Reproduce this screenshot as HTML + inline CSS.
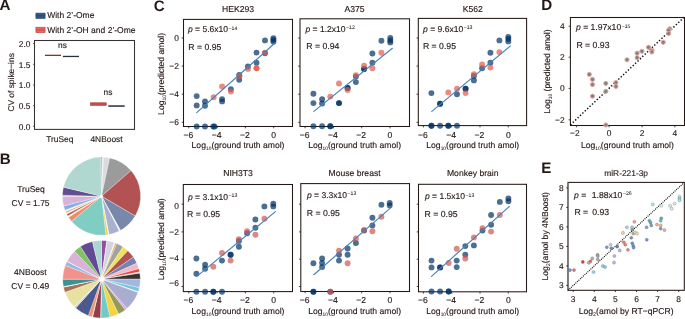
<!DOCTYPE html>
<html><head><meta charset="utf-8"><style>
html,body{margin:0;padding:0;background:#fff;}
svg{display:block;will-change:transform;}
text{font-family:"Liberation Sans",sans-serif;text-rendering:geometricPrecision;stroke:#231815;stroke-width:0.13px;}
tspan[font-size]{stroke-width:0.04px;}
text[font-weight="bold"]{stroke:none;}
</style></head><body>
<svg width="685" height="319" viewBox="0 0 685 319">
<rect width="685" height="319" fill="#fff"/>
<text x="-0.4" y="10.3" font-size="15.2" font-weight="bold" fill="#231815">A</text>
<text x="-0.3" y="163.8" font-size="15.2" font-weight="bold" fill="#231815">B</text>
<text x="153.7" y="11.0" font-size="15.2" font-weight="bold" fill="#231815">C</text>
<text x="541.2" y="10.4" font-size="15.2" font-weight="bold" fill="#231815">D</text>
<text x="541.2" y="172.7" font-size="15.2" font-weight="bold" fill="#231815">E</text>
<rect x="35.9" y="13.1" width="9.2" height="5.4" fill="#33598a" stroke="#22385a" stroke-width="0.55"/>
<line x1="35.9" y1="15.8" x2="45.1" y2="15.8" stroke="#22385a" stroke-width="0.6"/>
<rect x="35.9" y="27.2" width="9.2" height="5.5" fill="#ec6560" stroke="#b23a38" stroke-width="0.55"/>
<line x1="35.9" y1="29.95" x2="45.1" y2="29.95" stroke="#b23a38" stroke-width="0.6"/>
<text x="47.2" y="18.2" font-size="8.5" fill="#231815">With 2&#8217;-Ome</text>
<text x="47.2" y="32.6" font-size="8.5" fill="#231815">With 2&#8217;-OH and 2&#8217;-Ome</text>
<rect x="34.5" y="40.5" width="100.0" height="88.9" fill="none" stroke="#333" stroke-width="1.05"/>
<line x1="33.0" y1="43.6" x2="34.7" y2="43.6" stroke="#3b3533" stroke-width="0.8"/>
<text x="30.4" y="46.800000000000004" font-size="8.4" text-anchor="end" fill="#231815">2.0</text>
<line x1="33.0" y1="64.3" x2="34.7" y2="64.3" stroke="#3b3533" stroke-width="0.8"/>
<text x="30.4" y="67.5" font-size="8.4" text-anchor="end" fill="#231815">1.5</text>
<line x1="33.0" y1="85.0" x2="34.7" y2="85.0" stroke="#3b3533" stroke-width="0.8"/>
<text x="30.4" y="88.2" font-size="8.4" text-anchor="end" fill="#231815">1.0</text>
<line x1="33.0" y1="105.6" x2="34.7" y2="105.6" stroke="#3b3533" stroke-width="0.8"/>
<text x="30.4" y="108.8" font-size="8.4" text-anchor="end" fill="#231815">0.5</text>
<line x1="33.0" y1="126.3" x2="34.7" y2="126.3" stroke="#3b3533" stroke-width="0.8"/>
<text x="30.4" y="129.5" font-size="8.4" text-anchor="end" fill="#231815">0.0</text>
<text transform="translate(14.2,82.4) rotate(-90)" font-size="8.4" text-anchor="middle" fill="#231815">CV of spike&#8722;ins</text>
<rect x="44.9" y="54.7" width="16.1" height="1.3" fill="#8a2e2e"/>
<rect x="62.9" y="55.8" width="16.1" height="1.3" fill="#28323f"/>
<rect x="90.5" y="102.8" width="15.8" height="2.6" fill="#d24846" stroke="#8c2c2c" stroke-width="0.5"/>
<rect x="108.3" y="105.3" width="16.4" height="1.5" fill="#27313e"/>
<text x="62.4" y="48.2" font-size="8.4" text-anchor="middle" fill="#231815">ns</text>
<text x="108.0" y="94.8" font-size="8.4" text-anchor="middle" fill="#231815">ns</text>
<text x="59.8" y="142.3" font-size="8.4" text-anchor="middle" fill="#231815">TruSeq</text>
<text x="106.5" y="142.3" font-size="8.4" text-anchor="middle" fill="#231815">4NBoost</text>
<text x="31.0" y="192.3" font-size="8.5" text-anchor="middle" fill="#231815">TruSeq</text>
<text x="30.6" y="206.0" font-size="8.5" text-anchor="middle" fill="#231815">CV = 1.75</text>
<text x="30.4" y="274.8" font-size="8.5" text-anchor="middle" fill="#231815">4NBoost</text>
<text x="30.3" y="289.1" font-size="8.5" text-anchor="middle" fill="#231815">CV = 0.49</text>
<path d="M101.5,196.2L101.50,157.10A39.1,39.1 0 0 1 102.59,157.12Z" fill="#8a4fa0" stroke="#fff" stroke-width="0.3" stroke-linejoin="round"/>
<path d="M101.5,196.2L102.59,157.12A39.1,39.1 0 0 1 103.55,157.15Z" fill="#f2f2f4" stroke="#fff" stroke-width="0.3" stroke-linejoin="round"/>
<path d="M101.5,196.2L103.55,157.15A39.1,39.1 0 0 1 109.63,157.95Z" fill="#d9dbe0" stroke="#fff" stroke-width="0.3" stroke-linejoin="round"/>
<path d="M101.5,196.2L109.63,157.95A39.1,39.1 0 0 1 131.01,170.55Z" fill="#9b9b9b" stroke="#fff" stroke-width="0.3" stroke-linejoin="round"/>
<path d="M101.5,196.2L131.01,170.55A39.1,39.1 0 0 1 135.19,216.04Z" fill="#b25252" stroke="#fff" stroke-width="0.3" stroke-linejoin="round"/>
<path d="M101.5,196.2L135.19,216.04A39.1,39.1 0 0 1 120.46,230.40Z" fill="#7888aa" stroke="#fff" stroke-width="0.3" stroke-linejoin="round"/>
<path d="M101.5,196.2L120.46,230.40A39.1,39.1 0 0 1 119.25,231.04Z" fill="#f6f6f8" stroke="#fff" stroke-width="0.3" stroke-linejoin="round"/>
<path d="M101.5,196.2L119.25,231.04A39.1,39.1 0 0 1 108.96,234.58Z" fill="#a9b0d0" stroke="#fff" stroke-width="0.3" stroke-linejoin="round"/>
<path d="M101.5,196.2L108.96,234.58A39.1,39.1 0 0 1 108.29,234.71Z" fill="#f8f8f8" stroke="#fff" stroke-width="0.3" stroke-linejoin="round"/>
<path d="M101.5,196.2L108.29,234.71A39.1,39.1 0 0 1 105.93,235.05Z" fill="#f2d24a" stroke="#fff" stroke-width="0.3" stroke-linejoin="round"/>
<path d="M101.5,196.2L105.93,235.05A39.1,39.1 0 0 1 71.55,221.33Z" fill="#80cdc4" stroke="#fff" stroke-width="0.3" stroke-linejoin="round"/>
<path d="M101.5,196.2L71.55,221.33A39.1,39.1 0 0 1 68.52,217.21Z" fill="#f08c64" stroke="#fff" stroke-width="0.3" stroke-linejoin="round"/>
<path d="M101.5,196.2L68.52,217.21A39.1,39.1 0 0 1 67.81,216.04Z" fill="#eef0f4" stroke="#fff" stroke-width="0.3" stroke-linejoin="round"/>
<path d="M101.5,196.2L67.81,216.04A39.1,39.1 0 0 1 66.66,213.95Z" fill="#a8684a" stroke="#fff" stroke-width="0.3" stroke-linejoin="round"/>
<path d="M101.5,196.2L66.66,213.95A39.1,39.1 0 0 1 66.21,213.03Z" fill="#f8f4f2" stroke="#fff" stroke-width="0.3" stroke-linejoin="round"/>
<path d="M101.5,196.2L66.21,213.03A39.1,39.1 0 0 1 65.51,211.48Z" fill="#f29a80" stroke="#fff" stroke-width="0.3" stroke-linejoin="round"/>
<path d="M101.5,196.2L65.51,211.48A39.1,39.1 0 0 1 65.00,210.21Z" fill="#f6f4f6" stroke="#fff" stroke-width="0.3" stroke-linejoin="round"/>
<path d="M101.5,196.2L65.00,210.21A39.1,39.1 0 0 1 63.65,205.99Z" fill="#86aee0" stroke="#fff" stroke-width="0.3" stroke-linejoin="round"/>
<path d="M101.5,196.2L63.65,205.99A39.1,39.1 0 0 1 62.40,196.20Z" fill="#d8b2d9" stroke="#fff" stroke-width="0.3" stroke-linejoin="round"/>
<path d="M101.5,196.2L62.40,196.20A39.1,39.1 0 0 1 62.41,195.18Z" fill="#d0e4a8" stroke="#fff" stroke-width="0.3" stroke-linejoin="round"/>
<path d="M101.5,196.2L62.41,195.18A39.1,39.1 0 0 1 63.46,187.14Z" fill="#654c92" stroke="#fff" stroke-width="0.3" stroke-linejoin="round"/>
<path d="M101.5,196.2L63.46,187.14A39.1,39.1 0 0 1 100.95,157.10Z" fill="#b0d8d0" stroke="#fff" stroke-width="0.3" stroke-linejoin="round"/>
<path d="M101.5,196.2L100.95,157.10A39.1,39.1 0 0 1 101.50,157.10Z" fill="#8a4fa0" stroke="#fff" stroke-width="0.3" stroke-linejoin="round"/>
<path d="M101.5,279.2L101.50,240.40A38.8,38.8 0 0 1 106.90,240.78Z" fill="#9150a2" stroke="#fff" stroke-width="0.3" stroke-linejoin="round"/>
<path d="M101.5,279.2L106.90,240.78A38.8,38.8 0 0 1 107.24,240.83Z" fill="#f4f4f6" stroke="#fff" stroke-width="0.3" stroke-linejoin="round"/>
<path d="M101.5,279.2L107.24,240.83A38.8,38.8 0 0 1 114.39,242.60Z" fill="#d2d5dd" stroke="#fff" stroke-width="0.3" stroke-linejoin="round"/>
<path d="M101.5,279.2L114.39,242.60A38.8,38.8 0 0 1 115.40,242.98Z" fill="#f8f0e0" stroke="#fff" stroke-width="0.3" stroke-linejoin="round"/>
<path d="M101.5,279.2L115.40,242.98A38.8,38.8 0 0 1 116.78,243.54Z" fill="#f0a030" stroke="#fff" stroke-width="0.3" stroke-linejoin="round"/>
<path d="M101.5,279.2L116.78,243.54A38.8,38.8 0 0 1 123.08,246.96Z" fill="#a2a2a2" stroke="#fff" stroke-width="0.3" stroke-linejoin="round"/>
<path d="M101.5,279.2L123.08,246.96A38.8,38.8 0 0 1 127.81,250.69Z" fill="#f0e452" stroke="#fff" stroke-width="0.3" stroke-linejoin="round"/>
<path d="M101.5,279.2L127.81,250.69A38.8,38.8 0 0 1 133.40,257.11Z" fill="#b25252" stroke="#fff" stroke-width="0.3" stroke-linejoin="round"/>
<path d="M101.5,279.2L133.40,257.11A38.8,38.8 0 0 1 136.83,263.17Z" fill="#7384b2" stroke="#fff" stroke-width="0.3" stroke-linejoin="round"/>
<path d="M101.5,279.2L136.83,263.17A38.8,38.8 0 0 1 138.87,268.77Z" fill="#f4b6c4" stroke="#fff" stroke-width="0.3" stroke-linejoin="round"/>
<path d="M101.5,279.2L138.87,268.77A38.8,38.8 0 0 1 139.61,271.93Z" fill="#e24444" stroke="#fff" stroke-width="0.3" stroke-linejoin="round"/>
<path d="M101.5,279.2L139.61,271.93A38.8,38.8 0 0 1 139.82,273.13Z" fill="#f8c8c8" stroke="#fff" stroke-width="0.3" stroke-linejoin="round"/>
<path d="M101.5,279.2L139.82,273.13A38.8,38.8 0 0 1 140.30,279.20Z" fill="#333333" stroke="#fff" stroke-width="0.3" stroke-linejoin="round"/>
<path d="M101.5,279.2L140.30,279.20A38.8,38.8 0 0 1 139.37,287.66Z" fill="#a2b6e2" stroke="#fff" stroke-width="0.3" stroke-linejoin="round"/>
<path d="M101.5,279.2L139.37,287.66A38.8,38.8 0 0 1 138.19,291.83Z" fill="#72c8d8" stroke="#fff" stroke-width="0.3" stroke-linejoin="round"/>
<path d="M101.5,279.2L138.19,291.83A38.8,38.8 0 0 1 137.96,292.47Z" fill="#f4f4f8" stroke="#fff" stroke-width="0.3" stroke-linejoin="round"/>
<path d="M101.5,279.2L137.96,292.47A38.8,38.8 0 0 1 126.96,308.48Z" fill="#a9aed0" stroke="#fff" stroke-width="0.3" stroke-linejoin="round"/>
<path d="M101.5,279.2L126.96,308.48A38.8,38.8 0 0 1 125.23,309.90Z" fill="#e0a2e0" stroke="#fff" stroke-width="0.3" stroke-linejoin="round"/>
<path d="M101.5,279.2L125.23,309.90A38.8,38.8 0 0 1 118.51,314.07Z" fill="#949a5a" stroke="#fff" stroke-width="0.3" stroke-linejoin="round"/>
<path d="M101.5,279.2L118.51,314.07A38.8,38.8 0 0 1 109.90,317.08Z" fill="#f2d444" stroke="#fff" stroke-width="0.3" stroke-linejoin="round"/>
<path d="M101.5,279.2L109.90,317.08A38.8,38.8 0 0 1 100.82,317.99Z" fill="#72cac8" stroke="#fff" stroke-width="0.3" stroke-linejoin="round"/>
<path d="M101.5,279.2L100.82,317.99A38.8,38.8 0 0 1 100.48,317.99Z" fill="#f8f8f8" stroke="#fff" stroke-width="0.3" stroke-linejoin="round"/>
<path d="M101.5,279.2L100.48,317.99A38.8,38.8 0 0 1 92.57,316.96Z" fill="#923f4a" stroke="#fff" stroke-width="0.3" stroke-linejoin="round"/>
<path d="M101.5,279.2L92.57,316.96A38.8,38.8 0 0 1 92.11,316.85Z" fill="#f8f8f8" stroke="#fff" stroke-width="0.3" stroke-linejoin="round"/>
<path d="M101.5,279.2L92.11,316.85A38.8,38.8 0 0 1 88.23,315.66Z" fill="#f29272" stroke="#fff" stroke-width="0.3" stroke-linejoin="round"/>
<path d="M101.5,279.2L88.23,315.66A38.8,38.8 0 0 1 75.64,308.12Z" fill="#4b5a8e" stroke="#fff" stroke-width="0.3" stroke-linejoin="round"/>
<path d="M101.5,279.2L75.64,308.12A38.8,38.8 0 0 1 75.24,307.76Z" fill="#f4f0e8" stroke="#fff" stroke-width="0.3" stroke-linejoin="round"/>
<path d="M101.5,279.2L75.24,307.76A38.8,38.8 0 0 1 74.64,307.20Z" fill="#9a6a4a" stroke="#fff" stroke-width="0.3" stroke-linejoin="round"/>
<path d="M101.5,279.2L74.64,307.20A38.8,38.8 0 0 1 74.06,306.64Z" fill="#f4f0e8" stroke="#fff" stroke-width="0.3" stroke-linejoin="round"/>
<path d="M101.5,279.2L74.06,306.64A38.8,38.8 0 0 1 64.97,292.28Z" fill="#e8e2a2" stroke="#fff" stroke-width="0.3" stroke-linejoin="round"/>
<path d="M101.5,279.2L64.97,292.28A38.8,38.8 0 0 1 63.52,287.13Z" fill="#a87050" stroke="#fff" stroke-width="0.3" stroke-linejoin="round"/>
<path d="M101.5,279.2L63.52,287.13A38.8,38.8 0 0 1 63.41,286.60Z" fill="#f8f8f8" stroke="#fff" stroke-width="0.3" stroke-linejoin="round"/>
<path d="M101.5,279.2L63.41,286.60A38.8,38.8 0 0 1 62.70,279.20Z" fill="#3a9292" stroke="#fff" stroke-width="0.3" stroke-linejoin="round"/>
<path d="M101.5,279.2L62.70,279.20A38.8,38.8 0 0 1 65.20,265.49Z" fill="#f2928a" stroke="#fff" stroke-width="0.3" stroke-linejoin="round"/>
<path d="M101.5,279.2L65.20,265.49A38.8,38.8 0 0 1 66.99,261.46Z" fill="#92bae2" stroke="#fff" stroke-width="0.3" stroke-linejoin="round"/>
<path d="M101.5,279.2L66.99,261.46A38.8,38.8 0 0 1 67.12,261.22Z" fill="#f8f8f8" stroke="#fff" stroke-width="0.3" stroke-linejoin="round"/>
<path d="M101.5,279.2L67.12,261.22A38.8,38.8 0 0 1 74.55,251.29Z" fill="#d9b2d9" stroke="#fff" stroke-width="0.3" stroke-linejoin="round"/>
<path d="M101.5,279.2L74.55,251.29A38.8,38.8 0 0 1 80.48,246.59Z" fill="#82c262" stroke="#fff" stroke-width="0.3" stroke-linejoin="round"/>
<path d="M101.5,279.2L80.48,246.59A38.8,38.8 0 0 1 92.44,241.47Z" fill="#634a92" stroke="#fff" stroke-width="0.3" stroke-linejoin="round"/>
<path d="M101.5,279.2L92.44,241.47A38.8,38.8 0 0 1 101.50,240.40Z" fill="#aad8d0" stroke="#fff" stroke-width="0.3" stroke-linejoin="round"/>
<defs><radialGradient id="wg"><stop offset="0" stop-color="#fff" stop-opacity="1"/><stop offset="0.45" stop-color="#fff" stop-opacity="0.85"/><stop offset="1" stop-color="#fff" stop-opacity="0"/></radialGradient></defs>
<circle cx="101.7" cy="279.0" r="4.2" fill="url(#wg)"/>
<circle cx="101.5" cy="196.2" r="2.2" fill="url(#wg)"/>
<rect x="183.5" y="19.4" width="109.0" height="107.1" fill="none" stroke="#231815" stroke-width="1.05"/>
<text x="238.05" y="12.0" font-size="8.6" text-anchor="middle" fill="#231815">HEK293</text>
<text x="187.9" y="32.4" font-size="8.55" fill="#231815"><tspan font-style="italic">p</tspan> = 5.6x10<tspan font-size="5.2" dx="0.5" dy="-2.6">&#8722;14</tspan></text>
<text x="188.3" y="50.0" font-size="8.7" fill="#231815">R = 0.95</text>
<line x1="188.8" y1="126.5" x2="188.8" y2="128.3" stroke="#231815" stroke-width="0.8"/>
<text x="188.3" y="137.6" font-size="8.6" text-anchor="middle" fill="#231815">&#8722;6</text>
<line x1="217.10000000000002" y1="126.5" x2="217.10000000000002" y2="128.3" stroke="#231815" stroke-width="0.8"/>
<text x="216.60000000000002" y="137.6" font-size="8.6" text-anchor="middle" fill="#231815">&#8722;4</text>
<line x1="245.4" y1="126.5" x2="245.4" y2="128.3" stroke="#231815" stroke-width="0.8"/>
<text x="244.9" y="137.6" font-size="8.6" text-anchor="middle" fill="#231815">&#8722;2</text>
<line x1="273.70000000000005" y1="126.5" x2="273.70000000000005" y2="128.3" stroke="#231815" stroke-width="0.8"/>
<text x="273.70000000000005" y="137.6" font-size="8.6" text-anchor="middle" fill="#231815">0</text>
<line x1="181.7" y1="38.0" x2="183.5" y2="38.0" stroke="#231815" stroke-width="0.8"/>
<text x="178.9" y="41.0" font-size="8.4" text-anchor="end" fill="#231815">0</text>
<line x1="181.7" y1="66.1" x2="183.5" y2="66.1" stroke="#231815" stroke-width="0.8"/>
<text x="178.9" y="69.1" font-size="8.4" text-anchor="end" fill="#231815">&#8722;2</text>
<line x1="181.7" y1="94.2" x2="183.5" y2="94.2" stroke="#231815" stroke-width="0.8"/>
<text x="178.9" y="97.2" font-size="8.4" text-anchor="end" fill="#231815">&#8722;4</text>
<line x1="181.7" y1="122.3" x2="183.5" y2="122.3" stroke="#231815" stroke-width="0.8"/>
<text x="178.9" y="125.3" font-size="8.4" text-anchor="end" fill="#231815">&#8722;6</text>
<text x="238.05" y="148.3" font-size="8.6" text-anchor="middle" fill="#231815">Log<tspan font-size="4.9" dy="2.1">10</tspan><tspan dy="-2.1">(ground truth amol)</tspan></text>
<rect x="300.0" y="18.8" width="109.5" height="107.7" fill="none" stroke="#231815" stroke-width="1.05"/>
<text x="354.6" y="12.0" font-size="8.6" text-anchor="middle" fill="#231815">A375</text>
<text x="305.40000000000003" y="31.9" font-size="8.55" fill="#231815"><tspan font-style="italic">p</tspan> = 1.2x10<tspan font-size="5.2" dx="0.5" dy="-2.6">&#8722;12</tspan></text>
<text x="306.3" y="49.2" font-size="8.7" fill="#231815">R = 0.94</text>
<line x1="305.1" y1="126.5" x2="305.1" y2="128.3" stroke="#231815" stroke-width="0.8"/>
<text x="304.6" y="137.6" font-size="8.6" text-anchor="middle" fill="#231815">&#8722;6</text>
<line x1="333.40000000000003" y1="126.5" x2="333.40000000000003" y2="128.3" stroke="#231815" stroke-width="0.8"/>
<text x="332.90000000000003" y="137.6" font-size="8.6" text-anchor="middle" fill="#231815">&#8722;4</text>
<line x1="361.70000000000005" y1="126.5" x2="361.70000000000005" y2="128.3" stroke="#231815" stroke-width="0.8"/>
<text x="361.20000000000005" y="137.6" font-size="8.6" text-anchor="middle" fill="#231815">&#8722;2</text>
<line x1="390.0" y1="126.5" x2="390.0" y2="128.3" stroke="#231815" stroke-width="0.8"/>
<text x="390.0" y="137.6" font-size="8.6" text-anchor="middle" fill="#231815">0</text>
<line x1="298.2" y1="38.0" x2="300.0" y2="38.0" stroke="#231815" stroke-width="0.8"/>
<line x1="298.2" y1="66.1" x2="300.0" y2="66.1" stroke="#231815" stroke-width="0.8"/>
<line x1="298.2" y1="94.2" x2="300.0" y2="94.2" stroke="#231815" stroke-width="0.8"/>
<line x1="298.2" y1="122.3" x2="300.0" y2="122.3" stroke="#231815" stroke-width="0.8"/>
<text x="354.6" y="148.3" font-size="8.6" text-anchor="middle" fill="#231815">Log<tspan font-size="4.9" dy="2.1">10</tspan><tspan dy="-2.1">(ground truth amol)</tspan></text>
<rect x="418.3" y="18.4" width="108.30000000000001" height="107.19999999999999" fill="none" stroke="#231815" stroke-width="1.05"/>
<text x="472.75" y="12.0" font-size="8.6" text-anchor="middle" fill="#231815">K562</text>
<text x="423.0" y="31.9" font-size="8.55" fill="#231815"><tspan font-style="italic">p</tspan> = 9.6x10<tspan font-size="5.2" dx="0.5" dy="-2.6">&#8722;13</tspan></text>
<text x="422.9" y="49.0" font-size="8.7" fill="#231815">R = 0.95</text>
<line x1="423.4" y1="125.6" x2="423.4" y2="127.39999999999999" stroke="#231815" stroke-width="0.8"/>
<text x="422.9" y="137.6" font-size="8.6" text-anchor="middle" fill="#231815">&#8722;6</text>
<line x1="451.7" y1="125.6" x2="451.7" y2="127.39999999999999" stroke="#231815" stroke-width="0.8"/>
<text x="451.2" y="137.6" font-size="8.6" text-anchor="middle" fill="#231815">&#8722;4</text>
<line x1="480.0" y1="125.6" x2="480.0" y2="127.39999999999999" stroke="#231815" stroke-width="0.8"/>
<text x="479.5" y="137.6" font-size="8.6" text-anchor="middle" fill="#231815">&#8722;2</text>
<line x1="508.29999999999995" y1="125.6" x2="508.29999999999995" y2="127.39999999999999" stroke="#231815" stroke-width="0.8"/>
<text x="508.29999999999995" y="137.6" font-size="8.6" text-anchor="middle" fill="#231815">0</text>
<line x1="416.5" y1="38.0" x2="418.3" y2="38.0" stroke="#231815" stroke-width="0.8"/>
<line x1="416.5" y1="66.1" x2="418.3" y2="66.1" stroke="#231815" stroke-width="0.8"/>
<line x1="416.5" y1="94.2" x2="418.3" y2="94.2" stroke="#231815" stroke-width="0.8"/>
<line x1="416.5" y1="122.3" x2="418.3" y2="122.3" stroke="#231815" stroke-width="0.8"/>
<text x="472.75" y="148.3" font-size="8.6" text-anchor="middle" fill="#231815">Log<tspan font-size="4.9" dy="2.1">10</tspan><tspan dy="-2.1">(ground truth amol)</tspan></text>
<text transform="translate(164.2,73.94999999999999) rotate(-90)" font-size="8.6" text-anchor="middle" fill="#231815">Log<tspan font-size="4.9" dy="2.1">10</tspan><tspan dy="-2.1">(predicted amol)</tspan></text>
<rect x="183.3" y="184.5" width="109.19999999999999" height="107.10000000000002" fill="none" stroke="#231815" stroke-width="1.05"/>
<text x="238.05" y="175.9" font-size="8.6" text-anchor="middle" fill="#231815">NIH3T3</text>
<text x="187.9" y="199.50000000000003" font-size="8.55" fill="#231815"><tspan font-style="italic">p</tspan> = 3.1x10<tspan font-size="5.2" dx="0.5" dy="-2.6">&#8722;13</tspan></text>
<text x="187.10000000000002" y="217.40000000000003" font-size="8.7" fill="#231815">R = 0.95</text>
<line x1="188.8" y1="291.6" x2="188.8" y2="293.40000000000003" stroke="#231815" stroke-width="0.8"/>
<text x="188.3" y="302.9" font-size="8.6" text-anchor="middle" fill="#231815">&#8722;6</text>
<line x1="217.10000000000002" y1="291.6" x2="217.10000000000002" y2="293.40000000000003" stroke="#231815" stroke-width="0.8"/>
<text x="216.60000000000002" y="302.9" font-size="8.6" text-anchor="middle" fill="#231815">&#8722;4</text>
<line x1="245.4" y1="291.6" x2="245.4" y2="293.40000000000003" stroke="#231815" stroke-width="0.8"/>
<text x="244.9" y="302.9" font-size="8.6" text-anchor="middle" fill="#231815">&#8722;2</text>
<line x1="273.70000000000005" y1="291.6" x2="273.70000000000005" y2="293.40000000000003" stroke="#231815" stroke-width="0.8"/>
<text x="273.70000000000005" y="302.9" font-size="8.6" text-anchor="middle" fill="#231815">0</text>
<line x1="181.5" y1="204.2" x2="183.3" y2="204.2" stroke="#231815" stroke-width="0.8"/>
<text x="178.9" y="208.6" font-size="8.4" text-anchor="end" fill="#231815">0</text>
<line x1="181.5" y1="231.9" x2="183.3" y2="231.9" stroke="#231815" stroke-width="0.8"/>
<text x="178.9" y="235.1" font-size="8.4" text-anchor="end" fill="#231815">&#8722;2</text>
<line x1="181.5" y1="259.2" x2="183.3" y2="259.2" stroke="#231815" stroke-width="0.8"/>
<text x="178.9" y="260.8" font-size="8.4" text-anchor="end" fill="#231815">&#8722;4</text>
<line x1="181.5" y1="286.5" x2="183.3" y2="286.5" stroke="#231815" stroke-width="0.8"/>
<text x="178.9" y="286.2" font-size="8.4" text-anchor="end" fill="#231815">&#8722;6</text>
<text x="238.05" y="313.6" font-size="8.6" text-anchor="middle" fill="#231815">Log<tspan font-size="4.9" dy="2.1">10</tspan><tspan dy="-2.1">(ground truth amol)</tspan></text>
<rect x="300.8" y="183.6" width="108.69999999999999" height="107.9" fill="none" stroke="#231815" stroke-width="1.05"/>
<text x="354.6" y="175.9" font-size="8.6" text-anchor="middle" fill="#231815">Mouse breast</text>
<text x="306.90000000000003" y="197.8" font-size="8.55" fill="#231815"><tspan font-style="italic">p</tspan> = 3.3x10<tspan font-size="5.2" dx="0.5" dy="-2.6">&#8722;13</tspan></text>
<text x="306.8" y="216.00000000000003" font-size="8.7" fill="#231815">R = 0.95</text>
<line x1="305.1" y1="291.5" x2="305.1" y2="293.3" stroke="#231815" stroke-width="0.8"/>
<text x="304.6" y="302.9" font-size="8.6" text-anchor="middle" fill="#231815">&#8722;6</text>
<line x1="333.40000000000003" y1="291.5" x2="333.40000000000003" y2="293.3" stroke="#231815" stroke-width="0.8"/>
<text x="332.90000000000003" y="302.9" font-size="8.6" text-anchor="middle" fill="#231815">&#8722;4</text>
<line x1="361.70000000000005" y1="291.5" x2="361.70000000000005" y2="293.3" stroke="#231815" stroke-width="0.8"/>
<text x="361.20000000000005" y="302.9" font-size="8.6" text-anchor="middle" fill="#231815">&#8722;2</text>
<line x1="390.0" y1="291.5" x2="390.0" y2="293.3" stroke="#231815" stroke-width="0.8"/>
<text x="390.0" y="302.9" font-size="8.6" text-anchor="middle" fill="#231815">0</text>
<line x1="299.0" y1="204.2" x2="300.8" y2="204.2" stroke="#231815" stroke-width="0.8"/>
<line x1="299.0" y1="231.9" x2="300.8" y2="231.9" stroke="#231815" stroke-width="0.8"/>
<line x1="299.0" y1="259.2" x2="300.8" y2="259.2" stroke="#231815" stroke-width="0.8"/>
<line x1="299.0" y1="286.5" x2="300.8" y2="286.5" stroke="#231815" stroke-width="0.8"/>
<text x="354.6" y="313.6" font-size="8.6" text-anchor="middle" fill="#231815">Log<tspan font-size="4.9" dy="2.1">10</tspan><tspan dy="-2.1">(ground truth amol)</tspan></text>
<rect x="418.5" y="184.3" width="108.0" height="107.5" fill="none" stroke="#231815" stroke-width="1.05"/>
<text x="472.75" y="175.9" font-size="8.6" text-anchor="middle" fill="#231815">Monkey brain</text>
<text x="424.9" y="199.4" font-size="8.55" fill="#231815"><tspan font-style="italic">p</tspan> = 1.5x10<tspan font-size="5.2" dx="0.5" dy="-2.6">&#8722;13</tspan></text>
<text x="424.59999999999997" y="216.70000000000002" font-size="8.7" fill="#231815">R = 0.95</text>
<line x1="423.4" y1="291.8" x2="423.4" y2="293.6" stroke="#231815" stroke-width="0.8"/>
<text x="422.9" y="302.9" font-size="8.6" text-anchor="middle" fill="#231815">&#8722;6</text>
<line x1="451.7" y1="291.8" x2="451.7" y2="293.6" stroke="#231815" stroke-width="0.8"/>
<text x="451.2" y="302.9" font-size="8.6" text-anchor="middle" fill="#231815">&#8722;4</text>
<line x1="480.0" y1="291.8" x2="480.0" y2="293.6" stroke="#231815" stroke-width="0.8"/>
<text x="479.5" y="302.9" font-size="8.6" text-anchor="middle" fill="#231815">&#8722;2</text>
<line x1="508.29999999999995" y1="291.8" x2="508.29999999999995" y2="293.6" stroke="#231815" stroke-width="0.8"/>
<text x="508.29999999999995" y="302.9" font-size="8.6" text-anchor="middle" fill="#231815">0</text>
<line x1="416.7" y1="204.2" x2="418.5" y2="204.2" stroke="#231815" stroke-width="0.8"/>
<line x1="416.7" y1="231.9" x2="418.5" y2="231.9" stroke="#231815" stroke-width="0.8"/>
<line x1="416.7" y1="259.2" x2="418.5" y2="259.2" stroke="#231815" stroke-width="0.8"/>
<line x1="416.7" y1="286.5" x2="418.5" y2="286.5" stroke="#231815" stroke-width="0.8"/>
<text x="472.75" y="313.6" font-size="8.6" text-anchor="middle" fill="#231815">Log<tspan font-size="4.9" dy="2.1">10</tspan><tspan dy="-2.1">(ground truth amol)</tspan></text>
<text transform="translate(164.2,239.25) rotate(-90)" font-size="8.6" text-anchor="middle" fill="#231815">Log<tspan font-size="4.9" dy="2.1">10</tspan><tspan dy="-2.1">(predicted amol)</tspan></text>
<circle cx="273.4" cy="38.2" r="2.95" fill="rgb(0,48,98)" fill-opacity="0.7"/>
<circle cx="273.4" cy="40.0" r="2.95" fill="rgb(0,48,98)" fill-opacity="0.7"/>
<circle cx="273.4" cy="41.7" r="2.95" fill="rgb(0,48,98)" fill-opacity="0.7"/>
<circle cx="265" cy="40.4" r="2.95" fill="rgb(0,48,98)" fill-opacity="0.7"/>
<circle cx="265" cy="53.2" r="2.95" fill="rgb(0,48,98)" fill-opacity="0.7"/>
<circle cx="256.5" cy="52.6" r="2.95" fill="rgb(0,48,98)" fill-opacity="0.7"/>
<circle cx="256.5" cy="62.8" r="2.95" fill="rgb(0,48,98)" fill-opacity="0.7"/>
<circle cx="247.9" cy="66.5" r="2.95" fill="rgb(0,48,98)" fill-opacity="0.7"/>
<circle cx="239.2" cy="74.9" r="2.95" fill="rgb(0,48,98)" fill-opacity="0.7"/>
<circle cx="239.2" cy="79.8" r="2.95" fill="rgb(0,48,98)" fill-opacity="0.7"/>
<circle cx="230.9" cy="89.1" r="2.95" fill="rgb(0,48,98)" fill-opacity="0.7"/>
<circle cx="222.1" cy="99.1" r="2.95" fill="rgb(0,48,98)" fill-opacity="0.7"/>
<circle cx="222.1" cy="101.4" r="2.95" fill="rgb(0,48,98)" fill-opacity="0.7"/>
<circle cx="205" cy="101.4" r="2.95" fill="rgb(0,48,98)" fill-opacity="0.7"/>
<circle cx="205" cy="105.8" r="2.95" fill="rgb(0,48,98)" fill-opacity="0.7"/>
<circle cx="196.7" cy="96.1" r="2.95" fill="rgb(0,48,98)" fill-opacity="0.7"/>
<circle cx="196.7" cy="105.4" r="2.95" fill="rgb(0,48,98)" fill-opacity="0.7"/>
<circle cx="196.7" cy="126.5" r="2.95" fill="rgb(0,48,98)" fill-opacity="0.7"/>
<circle cx="205" cy="126.5" r="2.95" fill="rgb(0,48,98)" fill-opacity="0.7"/>
<circle cx="213.3" cy="126.5" r="2.95" fill="rgb(0,48,98)" fill-opacity="0.7"/>
<circle cx="214.5" cy="126.5" r="2.95" fill="rgb(0,48,98)" fill-opacity="0.7"/>
<circle cx="265" cy="52.6" r="2.95" fill="rgb(226,88,72)" fill-opacity="0.7"/>
<circle cx="256.5" cy="68.3" r="2.95" fill="rgb(226,88,72)" fill-opacity="0.7"/>
<circle cx="256.5" cy="68.3" r="2.95" fill="rgb(226,88,72)" fill-opacity="0.7"/>
<circle cx="247.9" cy="68.9" r="2.95" fill="rgb(226,88,72)" fill-opacity="0.7"/>
<circle cx="239.6" cy="75.9" r="2.95" fill="rgb(226,88,72)" fill-opacity="0.7"/>
<circle cx="230.9" cy="91.6" r="2.95" fill="rgb(226,88,72)" fill-opacity="0.7"/>
<circle cx="222.1" cy="86.5" r="2.95" fill="rgb(226,88,72)" fill-opacity="0.7"/>
<circle cx="213.6" cy="97.3" r="2.95" fill="rgb(226,88,72)" fill-opacity="0.7"/>
<line x1="196.7" y1="112.6" x2="275.0" y2="43.0" stroke="#4682b9" stroke-width="1.15" stroke-linecap="round"/>
<circle cx="390.3" cy="38" r="2.95" fill="rgb(0,48,98)" fill-opacity="0.7"/>
<circle cx="390.3" cy="40.4" r="2.95" fill="rgb(0,48,98)" fill-opacity="0.7"/>
<circle cx="390.3" cy="42.4" r="2.95" fill="rgb(0,48,98)" fill-opacity="0.7"/>
<circle cx="381.4" cy="40.7" r="2.95" fill="rgb(0,48,98)" fill-opacity="0.7"/>
<circle cx="372.4" cy="53.5" r="2.95" fill="rgb(0,48,98)" fill-opacity="0.7"/>
<circle cx="372.4" cy="62.8" r="2.95" fill="rgb(0,48,98)" fill-opacity="0.7"/>
<circle cx="364.1" cy="69" r="2.95" fill="rgb(0,48,98)" fill-opacity="0.7"/>
<circle cx="364.1" cy="69" r="2.95" fill="rgb(0,48,98)" fill-opacity="0.7"/>
<circle cx="355.9" cy="76.6" r="2.95" fill="rgb(0,48,98)" fill-opacity="0.7"/>
<circle cx="355.9" cy="82.1" r="2.95" fill="rgb(0,48,98)" fill-opacity="0.7"/>
<circle cx="347.6" cy="88" r="2.95" fill="rgb(0,48,98)" fill-opacity="0.7"/>
<circle cx="347.6" cy="88" r="2.95" fill="rgb(0,48,98)" fill-opacity="0.7"/>
<circle cx="339" cy="103.1" r="2.95" fill="rgb(0,48,98)" fill-opacity="0.7"/>
<circle cx="339" cy="103.1" r="2.95" fill="rgb(0,48,98)" fill-opacity="0.7"/>
<circle cx="322.1" cy="99.3" r="2.95" fill="rgb(0,48,98)" fill-opacity="0.7"/>
<circle cx="322.1" cy="103.5" r="2.95" fill="rgb(0,48,98)" fill-opacity="0.7"/>
<circle cx="313.4" cy="93.8" r="2.95" fill="rgb(0,48,98)" fill-opacity="0.7"/>
<circle cx="313.4" cy="103.1" r="2.95" fill="rgb(0,48,98)" fill-opacity="0.7"/>
<circle cx="313.4" cy="126.2" r="2.95" fill="rgb(0,48,98)" fill-opacity="0.7"/>
<circle cx="322.1" cy="126.2" r="2.95" fill="rgb(0,48,98)" fill-opacity="0.7"/>
<circle cx="330.3" cy="126.2" r="2.95" fill="rgb(0,48,98)" fill-opacity="0.7"/>
<circle cx="330.3" cy="126.2" r="2.95" fill="rgb(0,48,98)" fill-opacity="0.7"/>
<circle cx="381.4" cy="52.8" r="2.95" fill="rgb(226,88,72)" fill-opacity="0.7"/>
<circle cx="372.4" cy="68.3" r="2.95" fill="rgb(226,88,72)" fill-opacity="0.7"/>
<circle cx="364.1" cy="65.6" r="2.95" fill="rgb(226,88,72)" fill-opacity="0.7"/>
<circle cx="355.9" cy="75.2" r="2.95" fill="rgb(226,88,72)" fill-opacity="0.7"/>
<circle cx="347.6" cy="90" r="2.95" fill="rgb(226,88,72)" fill-opacity="0.7"/>
<circle cx="339" cy="83.5" r="2.95" fill="rgb(226,88,72)" fill-opacity="0.7"/>
<circle cx="330.3" cy="96.6" r="2.95" fill="rgb(226,88,72)" fill-opacity="0.7"/>
<line x1="313.8" y1="111.4" x2="392.4" y2="48.3" stroke="#4682b9" stroke-width="1.15" stroke-linecap="round"/>
<circle cx="508.3" cy="36.9" r="2.95" fill="rgb(0,48,98)" fill-opacity="0.7"/>
<circle cx="508.3" cy="39" r="2.95" fill="rgb(0,48,98)" fill-opacity="0.7"/>
<circle cx="508.3" cy="41.4" r="2.95" fill="rgb(0,48,98)" fill-opacity="0.7"/>
<circle cx="499.4" cy="40.4" r="2.95" fill="rgb(0,48,98)" fill-opacity="0.7"/>
<circle cx="490.4" cy="52.8" r="2.95" fill="rgb(0,48,98)" fill-opacity="0.7"/>
<circle cx="490.4" cy="62.8" r="2.95" fill="rgb(0,48,98)" fill-opacity="0.7"/>
<circle cx="482.1" cy="68.3" r="2.95" fill="rgb(0,48,98)" fill-opacity="0.7"/>
<circle cx="473.9" cy="75.9" r="2.95" fill="rgb(0,48,98)" fill-opacity="0.7"/>
<circle cx="473.9" cy="80.4" r="2.95" fill="rgb(0,48,98)" fill-opacity="0.7"/>
<circle cx="465.6" cy="88.7" r="2.95" fill="rgb(0,48,98)" fill-opacity="0.7"/>
<circle cx="465.6" cy="88.7" r="2.95" fill="rgb(0,48,98)" fill-opacity="0.7"/>
<circle cx="457" cy="94.2" r="2.95" fill="rgb(0,48,98)" fill-opacity="0.7"/>
<circle cx="440.1" cy="103.8" r="2.95" fill="rgb(0,48,98)" fill-opacity="0.7"/>
<circle cx="440.1" cy="103.8" r="2.95" fill="rgb(0,48,98)" fill-opacity="0.7"/>
<circle cx="431.4" cy="93.1" r="2.95" fill="rgb(0,48,98)" fill-opacity="0.7"/>
<circle cx="431.4" cy="125.8" r="2.95" fill="rgb(0,48,98)" fill-opacity="0.7"/>
<circle cx="431.4" cy="125.8" r="2.95" fill="rgb(0,48,98)" fill-opacity="0.7"/>
<circle cx="440.1" cy="125.8" r="2.95" fill="rgb(0,48,98)" fill-opacity="0.7"/>
<circle cx="448.3" cy="125.8" r="2.95" fill="rgb(0,48,98)" fill-opacity="0.7"/>
<circle cx="448.3" cy="125.8" r="2.95" fill="rgb(0,48,98)" fill-opacity="0.7"/>
<circle cx="457" cy="125.8" r="2.95" fill="rgb(0,48,98)" fill-opacity="0.7"/>
<circle cx="499.4" cy="52.1" r="2.95" fill="rgb(226,88,72)" fill-opacity="0.7"/>
<circle cx="490.4" cy="67.6" r="2.95" fill="rgb(226,88,72)" fill-opacity="0.7"/>
<circle cx="482.1" cy="64.5" r="2.95" fill="rgb(226,88,72)" fill-opacity="0.7"/>
<circle cx="473.9" cy="74.2" r="2.95" fill="rgb(226,88,72)" fill-opacity="0.7"/>
<circle cx="465.6" cy="93.1" r="2.95" fill="rgb(226,88,72)" fill-opacity="0.7"/>
<circle cx="457" cy="88.7" r="2.95" fill="rgb(226,88,72)" fill-opacity="0.7"/>
<circle cx="448.3" cy="92.4" r="2.95" fill="rgb(226,88,72)" fill-opacity="0.7"/>
<line x1="431.8" y1="111.4" x2="510.4" y2="45.9" stroke="#4682b9" stroke-width="1.15" stroke-linecap="round"/>
<circle cx="273.3" cy="203.7" r="2.95" fill="rgb(0,48,98)" fill-opacity="0.7"/>
<circle cx="273.3" cy="206.4" r="2.95" fill="rgb(0,48,98)" fill-opacity="0.7"/>
<circle cx="264.4" cy="206.4" r="2.95" fill="rgb(0,48,98)" fill-opacity="0.7"/>
<circle cx="255.4" cy="219.5" r="2.95" fill="rgb(0,48,98)" fill-opacity="0.7"/>
<circle cx="255.4" cy="227.8" r="2.95" fill="rgb(0,48,98)" fill-opacity="0.7"/>
<circle cx="247.1" cy="233.3" r="2.95" fill="rgb(0,48,98)" fill-opacity="0.7"/>
<circle cx="238.9" cy="240.9" r="2.95" fill="rgb(0,48,98)" fill-opacity="0.7"/>
<circle cx="238.9" cy="246.8" r="2.95" fill="rgb(0,48,98)" fill-opacity="0.7"/>
<circle cx="230.6" cy="254.7" r="2.95" fill="rgb(0,48,98)" fill-opacity="0.7"/>
<circle cx="230.6" cy="254.7" r="2.95" fill="rgb(0,48,98)" fill-opacity="0.7"/>
<circle cx="222" cy="260.6" r="2.95" fill="rgb(0,48,98)" fill-opacity="0.7"/>
<circle cx="205.1" cy="264.7" r="2.95" fill="rgb(0,48,98)" fill-opacity="0.7"/>
<circle cx="205.1" cy="268.8" r="2.95" fill="rgb(0,48,98)" fill-opacity="0.7"/>
<circle cx="196.4" cy="258.5" r="2.95" fill="rgb(0,48,98)" fill-opacity="0.7"/>
<circle cx="196.4" cy="273.7" r="2.95" fill="rgb(0,48,98)" fill-opacity="0.7"/>
<circle cx="196.4" cy="291.8" r="2.95" fill="rgb(0,48,98)" fill-opacity="0.7"/>
<circle cx="205.1" cy="291.8" r="2.95" fill="rgb(0,48,98)" fill-opacity="0.7"/>
<circle cx="213.3" cy="291.8" r="2.95" fill="rgb(0,48,98)" fill-opacity="0.7"/>
<circle cx="213.3" cy="291.8" r="2.95" fill="rgb(0,48,98)" fill-opacity="0.7"/>
<circle cx="222" cy="291.8" r="2.95" fill="rgb(0,48,98)" fill-opacity="0.7"/>
<circle cx="264.4" cy="218.8" r="2.95" fill="rgb(210,86,78)" fill-opacity="0.7"/>
<circle cx="255.4" cy="234.7" r="2.95" fill="rgb(210,86,78)" fill-opacity="0.7"/>
<circle cx="247.1" cy="231.2" r="2.95" fill="rgb(210,86,78)" fill-opacity="0.7"/>
<circle cx="238.9" cy="239.2" r="2.95" fill="rgb(210,86,78)" fill-opacity="0.7"/>
<circle cx="230.6" cy="260.6" r="2.95" fill="rgb(210,86,78)" fill-opacity="0.7"/>
<circle cx="222" cy="253" r="2.95" fill="rgb(210,86,78)" fill-opacity="0.7"/>
<circle cx="213.3" cy="266.8" r="2.95" fill="rgb(210,86,78)" fill-opacity="0.7"/>
<line x1="196.8" y1="276.4" x2="275.4" y2="211.6" stroke="#4682b9" stroke-width="1.15" stroke-linecap="round"/>
<circle cx="389.7" cy="203" r="2.95" fill="rgb(0,48,98)" fill-opacity="0.7"/>
<circle cx="389.7" cy="205.4" r="2.95" fill="rgb(0,48,98)" fill-opacity="0.7"/>
<circle cx="381.4" cy="204.7" r="2.95" fill="rgb(0,48,98)" fill-opacity="0.7"/>
<circle cx="372.4" cy="217.8" r="2.95" fill="rgb(0,48,98)" fill-opacity="0.7"/>
<circle cx="372.4" cy="225.4" r="2.95" fill="rgb(0,48,98)" fill-opacity="0.7"/>
<circle cx="364.1" cy="230.6" r="2.95" fill="rgb(0,48,98)" fill-opacity="0.7"/>
<circle cx="355.9" cy="243" r="2.95" fill="rgb(0,48,98)" fill-opacity="0.7"/>
<circle cx="347.6" cy="248.5" r="2.95" fill="rgb(0,48,98)" fill-opacity="0.7"/>
<circle cx="347.6" cy="254.7" r="2.95" fill="rgb(0,48,98)" fill-opacity="0.7"/>
<circle cx="339" cy="254.7" r="2.95" fill="rgb(0,48,98)" fill-opacity="0.7"/>
<circle cx="339" cy="260.6" r="2.95" fill="rgb(0,48,98)" fill-opacity="0.7"/>
<circle cx="322.1" cy="258.5" r="2.95" fill="rgb(0,48,98)" fill-opacity="0.7"/>
<circle cx="322.1" cy="263" r="2.95" fill="rgb(0,48,98)" fill-opacity="0.7"/>
<circle cx="322.1" cy="267.1" r="2.95" fill="rgb(0,48,98)" fill-opacity="0.7"/>
<circle cx="313.4" cy="263.3" r="2.95" fill="rgb(0,48,98)" fill-opacity="0.7"/>
<circle cx="313.4" cy="291.8" r="2.95" fill="rgb(0,48,98)" fill-opacity="0.7"/>
<circle cx="313.4" cy="291.8" r="2.95" fill="rgb(0,48,98)" fill-opacity="0.7"/>
<circle cx="330.3" cy="291.8" r="2.95" fill="rgb(0,48,98)" fill-opacity="0.7"/>
<circle cx="381.4" cy="216.8" r="2.95" fill="rgb(210,86,78)" fill-opacity="0.7"/>
<circle cx="372.4" cy="231.2" r="2.95" fill="rgb(210,86,78)" fill-opacity="0.7"/>
<circle cx="364.1" cy="229.9" r="2.95" fill="rgb(210,86,78)" fill-opacity="0.7"/>
<circle cx="355.9" cy="238.5" r="2.95" fill="rgb(210,86,78)" fill-opacity="0.7"/>
<circle cx="347.6" cy="263.3" r="2.95" fill="rgb(210,86,78)" fill-opacity="0.7"/>
<circle cx="339" cy="250.6" r="2.95" fill="rgb(210,86,78)" fill-opacity="0.7"/>
<circle cx="330.3" cy="291.8" r="2.95" fill="rgb(210,86,78)" fill-opacity="0.7"/>
<line x1="313.8" y1="274.7" x2="390.3" y2="208.1" stroke="#4682b9" stroke-width="1.15" stroke-linecap="round"/>
<circle cx="508.4" cy="198.5" r="2.95" fill="rgb(0,48,98)" fill-opacity="0.7"/>
<circle cx="508.4" cy="201.2" r="2.95" fill="rgb(0,48,98)" fill-opacity="0.7"/>
<circle cx="499.8" cy="201.9" r="2.95" fill="rgb(0,48,98)" fill-opacity="0.7"/>
<circle cx="491.1" cy="215" r="2.95" fill="rgb(0,48,98)" fill-opacity="0.7"/>
<circle cx="491.1" cy="224.7" r="2.95" fill="rgb(0,48,98)" fill-opacity="0.7"/>
<circle cx="482.5" cy="230.6" r="2.95" fill="rgb(0,48,98)" fill-opacity="0.7"/>
<circle cx="473.9" cy="245.4" r="2.95" fill="rgb(0,48,98)" fill-opacity="0.7"/>
<circle cx="465.3" cy="246.1" r="2.95" fill="rgb(0,48,98)" fill-opacity="0.7"/>
<circle cx="465.3" cy="254.7" r="2.95" fill="rgb(0,48,98)" fill-opacity="0.7"/>
<circle cx="456.7" cy="260.6" r="2.95" fill="rgb(0,48,98)" fill-opacity="0.7"/>
<circle cx="456.7" cy="267.1" r="2.95" fill="rgb(0,48,98)" fill-opacity="0.7"/>
<circle cx="440.1" cy="267.4" r="2.95" fill="rgb(0,48,98)" fill-opacity="0.7"/>
<circle cx="440.1" cy="267.4" r="2.95" fill="rgb(0,48,98)" fill-opacity="0.7"/>
<circle cx="431.5" cy="260.6" r="2.95" fill="rgb(0,48,98)" fill-opacity="0.7"/>
<circle cx="431.5" cy="267.4" r="2.95" fill="rgb(0,48,98)" fill-opacity="0.7"/>
<circle cx="431.5" cy="291.5" r="2.95" fill="rgb(0,48,98)" fill-opacity="0.7"/>
<circle cx="440.1" cy="291.5" r="2.95" fill="rgb(0,48,98)" fill-opacity="0.7"/>
<circle cx="448.7" cy="291.5" r="2.95" fill="rgb(0,48,98)" fill-opacity="0.7"/>
<circle cx="448.7" cy="291.5" r="2.95" fill="rgb(0,48,98)" fill-opacity="0.7"/>
<circle cx="499.8" cy="215" r="2.95" fill="rgb(210,86,78)" fill-opacity="0.7"/>
<circle cx="491.1" cy="231.6" r="2.95" fill="rgb(210,86,78)" fill-opacity="0.7"/>
<circle cx="482.5" cy="228.1" r="2.95" fill="rgb(210,86,78)" fill-opacity="0.7"/>
<circle cx="473.9" cy="237.4" r="2.95" fill="rgb(210,86,78)" fill-opacity="0.7"/>
<circle cx="465.3" cy="258.5" r="2.95" fill="rgb(210,86,78)" fill-opacity="0.7"/>
<circle cx="456.7" cy="248.8" r="2.95" fill="rgb(210,86,78)" fill-opacity="0.7"/>
<circle cx="448.7" cy="263" r="2.95" fill="rgb(210,86,78)" fill-opacity="0.7"/>
<line x1="431.5" y1="276.4" x2="509.4" y2="206.4" stroke="#4682b9" stroke-width="1.15" stroke-linecap="round"/>
<rect x="570.4" y="17.5" width="114.10000000000002" height="108.0" fill="none" stroke="#231815" stroke-width="1.05"/>
<line x1="568.6" y1="26.2" x2="570.4" y2="26.2" stroke="#231815" stroke-width="0.8"/>
<text x="564.6" y="29.2" font-size="8.4" text-anchor="end" fill="#231815">4</text>
<line x1="568.6" y1="57.2" x2="570.4" y2="57.2" stroke="#231815" stroke-width="0.8"/>
<text x="564.6" y="60.2" font-size="8.4" text-anchor="end" fill="#231815">2</text>
<line x1="568.6" y1="88.4" x2="570.4" y2="88.4" stroke="#231815" stroke-width="0.8"/>
<text x="564.6" y="91.4" font-size="8.4" text-anchor="end" fill="#231815">0</text>
<line x1="568.6" y1="119.8" x2="570.4" y2="119.8" stroke="#231815" stroke-width="0.8"/>
<text x="564.6" y="122.8" font-size="8.4" text-anchor="end" fill="#231815">&#8722;2</text>
<line x1="576.4" y1="125.5" x2="576.4" y2="127.3" stroke="#231815" stroke-width="0.8"/>
<text x="574.8" y="136.0" font-size="8.4" text-anchor="middle" fill="#231815">&#8722;2</text>
<line x1="609.1" y1="125.5" x2="609.1" y2="127.3" stroke="#231815" stroke-width="0.8"/>
<text x="609.1" y="136.0" font-size="8.4" text-anchor="middle" fill="#231815">0</text>
<line x1="642.1" y1="125.5" x2="642.1" y2="127.3" stroke="#231815" stroke-width="0.8"/>
<text x="642.1" y="136.0" font-size="8.4" text-anchor="middle" fill="#231815">2</text>
<line x1="674.8" y1="125.5" x2="674.8" y2="127.3" stroke="#231815" stroke-width="0.8"/>
<text x="674.8" y="136.0" font-size="8.4" text-anchor="middle" fill="#231815">4</text>
<text x="576.0" y="30.4" font-size="8.6" fill="#231815"><tspan font-style="italic">p</tspan> = 1.97x10<tspan font-size="5.2" dx="0.5" dy="-2.6">&#8722;15</tspan></text>
<text x="576.4" y="47.6" font-size="8.7" fill="#231815">R = 0.93</text>
<text x="627.45" y="148.0" font-size="8.6" text-anchor="middle" fill="#231815">Log<tspan font-size="4.9" dy="2.1">10</tspan><tspan dy="-2.1">(ground truth amol)</tspan></text>
<text transform="translate(550.2,71.5) rotate(-90)" font-size="8.6" text-anchor="middle" fill="#231815">Log<tspan font-size="4.9" dy="2.1">10</tspan><tspan dy="-2.1"> (predicted amol)</tspan></text>
<line x1="570.4" y1="124.9" x2="684.5" y2="16.9" stroke="#111" stroke-width="1.45" stroke-dasharray="1.4 1.9"/>
<circle cx="669.7" cy="28.8" r="2.1" fill="#788585" stroke="#efa59d" stroke-width="1.0"/>
<circle cx="668.6" cy="30.3" r="2.1" fill="#788585" stroke="#efa59d" stroke-width="1.0"/>
<circle cx="668.6" cy="33.5" r="2.1" fill="#788585" stroke="#efa59d" stroke-width="1.0"/>
<circle cx="663.2" cy="42.3" r="2.1" fill="#788585" stroke="#efa59d" stroke-width="1.0"/>
<circle cx="648.5" cy="47.3" r="2.1" fill="#788585" stroke="#efa59d" stroke-width="1.0"/>
<circle cx="651.9" cy="50.3" r="2.1" fill="#788585" stroke="#efa59d" stroke-width="1.0"/>
<circle cx="651.9" cy="52" r="2.1" fill="#788585" stroke="#efa59d" stroke-width="1.0"/>
<circle cx="641.9" cy="51.3" r="2.1" fill="#788585" stroke="#efa59d" stroke-width="1.0"/>
<circle cx="637.1" cy="53.2" r="2.1" fill="#788585" stroke="#efa59d" stroke-width="1.0"/>
<circle cx="637.1" cy="57.7" r="2.1" fill="#788585" stroke="#efa59d" stroke-width="1.0"/>
<circle cx="627" cy="59.8" r="2.1" fill="#788585" stroke="#efa59d" stroke-width="1.0"/>
<circle cx="589.3" cy="74.4" r="2.1" fill="#788585" stroke="#efa59d" stroke-width="1.0"/>
<circle cx="592.5" cy="79.4" r="2.1" fill="#788585" stroke="#efa59d" stroke-width="1.0"/>
<circle cx="592.5" cy="84.6" r="2.1" fill="#788585" stroke="#efa59d" stroke-width="1.0"/>
<circle cx="592.5" cy="96.2" r="2.1" fill="#788585" stroke="#efa59d" stroke-width="1.0"/>
<circle cx="605.8" cy="83.4" r="2.1" fill="#788585" stroke="#efa59d" stroke-width="1.0"/>
<circle cx="605.8" cy="91.4" r="2.1" fill="#788585" stroke="#efa59d" stroke-width="1.0"/>
<circle cx="615.9" cy="82.6" r="2.1" fill="#788585" stroke="#efa59d" stroke-width="1.0"/>
<circle cx="615.9" cy="86.4" r="2.1" fill="#788585" stroke="#efa59d" stroke-width="1.0"/>
<circle cx="605.9" cy="125" r="2.1" fill="#788585" stroke="#efa59d" stroke-width="1.0"/>
<text x="626.15" y="176.0" font-size="8.4" text-anchor="middle" fill="#231815">miR-221-3p</text>
<rect x="568.0" y="182.4" width="116.29999999999995" height="107.9" fill="none" stroke="#231815" stroke-width="1.05"/>
<line x1="567.8" y1="182.4" x2="567.8" y2="290.3" stroke="#7a7a7a" stroke-width="1.6"/>
<line x1="566.2" y1="285.4" x2="568.0" y2="285.4" stroke="#231815" stroke-width="0.8"/>
<text x="563.6" y="288.4" font-size="8.4" text-anchor="end" fill="#231815">3</text>
<line x1="566.2" y1="265.9" x2="568.0" y2="265.9" stroke="#231815" stroke-width="0.8"/>
<text x="563.6" y="268.9" font-size="8.4" text-anchor="end" fill="#231815">4</text>
<line x1="566.2" y1="246.4" x2="568.0" y2="246.4" stroke="#231815" stroke-width="0.8"/>
<text x="563.6" y="249.4" font-size="8.4" text-anchor="end" fill="#231815">5</text>
<line x1="566.2" y1="226.9" x2="568.0" y2="226.9" stroke="#231815" stroke-width="0.8"/>
<text x="563.6" y="229.9" font-size="8.4" text-anchor="end" fill="#231815">6</text>
<line x1="566.2" y1="207.4" x2="568.0" y2="207.4" stroke="#231815" stroke-width="0.8"/>
<text x="563.6" y="210.4" font-size="8.4" text-anchor="end" fill="#231815">7</text>
<line x1="566.2" y1="187.9" x2="568.0" y2="187.9" stroke="#231815" stroke-width="0.8"/>
<text x="563.6" y="190.9" font-size="8.4" text-anchor="end" fill="#231815">8</text>
<line x1="573.2" y1="290.3" x2="573.2" y2="292.1" stroke="#231815" stroke-width="0.8"/>
<text x="573.2" y="301.9" font-size="8.4" text-anchor="middle" fill="#231815">3</text>
<line x1="594.3000000000001" y1="290.3" x2="594.3000000000001" y2="292.1" stroke="#231815" stroke-width="0.8"/>
<text x="594.3000000000001" y="301.9" font-size="8.4" text-anchor="middle" fill="#231815">4</text>
<line x1="615.4000000000001" y1="290.3" x2="615.4000000000001" y2="292.1" stroke="#231815" stroke-width="0.8"/>
<text x="615.4000000000001" y="301.9" font-size="8.4" text-anchor="middle" fill="#231815">5</text>
<line x1="636.5" y1="290.3" x2="636.5" y2="292.1" stroke="#231815" stroke-width="0.8"/>
<text x="636.5" y="301.9" font-size="8.4" text-anchor="middle" fill="#231815">6</text>
<line x1="657.6" y1="290.3" x2="657.6" y2="292.1" stroke="#231815" stroke-width="0.8"/>
<text x="657.6" y="301.9" font-size="8.4" text-anchor="middle" fill="#231815">7</text>
<line x1="678.7" y1="290.3" x2="678.7" y2="292.1" stroke="#231815" stroke-width="0.8"/>
<text x="678.7" y="301.9" font-size="8.4" text-anchor="middle" fill="#231815">8</text>
<text x="574.0" y="197.6" font-size="8.6" fill="#231815"><tspan font-style="italic">p</tspan> =</text>
<text x="591.8" y="197.6" font-size="8.6" fill="#231815">1.88x10<tspan font-size="5.2" dx="0.5" dy="-2.6">&#8722;26</tspan></text>
<text x="574.4" y="214.5" font-size="8.7" fill="#231815">R =</text>
<text x="592.2" y="214.5" font-size="8.7" fill="#231815">0.93</text>
<text x="626.15" y="313.6" font-size="8.6" text-anchor="middle" fill="#231815">Log<tspan font-size="5.4" dy="2.1">2</tspan><tspan dy="-2.1">(amol by RT&#8722;qPCR)</tspan></text>
<text transform="translate(548.3,236.35000000000002) rotate(-90)" font-size="8.6" text-anchor="middle" fill="#231815">Log<tspan font-size="5.4" dy="2.1">2</tspan><tspan dy="-2.1">(amol by 4NBoost)</tspan></text>
<line x1="568.0" y1="290.3" x2="684.3" y2="182.4" stroke="#000" stroke-width="1.1" stroke-dasharray="1.0 1.05"/>
<circle cx="679.5" cy="196.9" r="1.55" fill="#b5e5e5" stroke="#5a5a5a" stroke-width="0.3"/>
<circle cx="679.5" cy="198.8" r="1.55" fill="#a1dada" stroke="#5a5a5a" stroke-width="0.3"/>
<circle cx="679.5" cy="200.3" r="1.55" fill="#aee1e1" stroke="#5a5a5a" stroke-width="0.3"/>
<circle cx="674.7" cy="203.6" r="1.55" fill="#d0eff2" stroke="#5a5a5a" stroke-width="0.3"/>
<circle cx="670.1" cy="205.7" r="1.55" fill="#d0eff2" stroke="#5a5a5a" stroke-width="0.3"/>
<circle cx="671.7" cy="208.8" r="1.55" fill="#d0eff2" stroke="#5a5a5a" stroke-width="0.3"/>
<circle cx="652.8" cy="204.4" r="1.55" fill="#bce5eb" stroke="#5a5a5a" stroke-width="0.3"/>
<circle cx="661.3" cy="205.7" r="1.55" fill="#d7f2f2" stroke="#5a5a5a" stroke-width="0.3"/>
<circle cx="661.3" cy="218.2" r="1.55" fill="#65aeb5" stroke="#5a5a5a" stroke-width="0.3"/>
<circle cx="660.7" cy="220.7" r="1.55" fill="#6ac3bc" stroke="#5a5a5a" stroke-width="0.3"/>
<circle cx="649.4" cy="220.7" r="1.55" fill="#5dbcb5" stroke="#5a5a5a" stroke-width="0.3"/>
<circle cx="650.6" cy="222.6" r="1.55" fill="#78a1c9" stroke="#5a5a5a" stroke-width="0.3"/>
<circle cx="651.3" cy="225.4" r="1.55" fill="#85a1c9" stroke="#5a5a5a" stroke-width="0.3"/>
<circle cx="634.4" cy="221.7" r="1.55" fill="#f2a193" stroke="#5a5a5a" stroke-width="0.3"/>
<circle cx="657" cy="224.5" r="1.55" fill="#f2ae93" stroke="#5a5a5a" stroke-width="0.3"/>
<circle cx="660.7" cy="225.4" r="1.55" fill="#f2bca1" stroke="#5a5a5a" stroke-width="0.3"/>
<circle cx="660.7" cy="228.6" r="1.55" fill="#859ac9" stroke="#5a5a5a" stroke-width="0.3"/>
<circle cx="664.5" cy="230.1" r="1.55" fill="#f2ae93" stroke="#5a5a5a" stroke-width="0.3"/>
<circle cx="646.6" cy="227.3" r="1.55" fill="#85a1d0" stroke="#5a5a5a" stroke-width="0.3"/>
<circle cx="626.9" cy="227.3" r="1.55" fill="#b5d0eb" stroke="#5a5a5a" stroke-width="0.3"/>
<circle cx="632.1" cy="227.3" r="1.55" fill="#b5d0eb" stroke="#5a5a5a" stroke-width="0.3"/>
<circle cx="632.3" cy="229.7" r="1.55" fill="#6aa1bc" stroke="#5a5a5a" stroke-width="0.3"/>
<circle cx="622.9" cy="232.9" r="1.55" fill="#f9d0a1" stroke="#5a5a5a" stroke-width="0.3"/>
<circle cx="633.2" cy="233.5" r="1.55" fill="#c9ae85" stroke="#5a5a5a" stroke-width="0.3"/>
<circle cx="635.1" cy="232.5" r="1.55" fill="#f9d7ae" stroke="#5a5a5a" stroke-width="0.3"/>
<circle cx="637" cy="233.5" r="1.55" fill="#f9d7ae" stroke="#5a5a5a" stroke-width="0.3"/>
<circle cx="631.3" cy="237.8" r="1.55" fill="#7893c9" stroke="#5a5a5a" stroke-width="0.3"/>
<circle cx="646.8" cy="239.7" r="1.55" fill="#7893c9" stroke="#5a5a5a" stroke-width="0.3"/>
<circle cx="623.8" cy="242.3" r="1.55" fill="#e58578" stroke="#5a5a5a" stroke-width="0.3"/>
<circle cx="625.3" cy="244.7" r="1.55" fill="#e58578" stroke="#5a5a5a" stroke-width="0.3"/>
<circle cx="627.9" cy="249.8" r="1.55" fill="#e58578" stroke="#5a5a5a" stroke-width="0.3"/>
<circle cx="632.3" cy="243.2" r="1.55" fill="#6a93d7" stroke="#5a5a5a" stroke-width="0.3"/>
<circle cx="633.2" cy="245.7" r="1.55" fill="#6a93d7" stroke="#5a5a5a" stroke-width="0.3"/>
<circle cx="633.6" cy="247.6" r="1.55" fill="#6a93d7" stroke="#5a5a5a" stroke-width="0.3"/>
<circle cx="610.5" cy="244.7" r="1.55" fill="#b5d7f2" stroke="#5a5a5a" stroke-width="0.3"/>
<circle cx="606.8" cy="247.3" r="1.55" fill="#7f9abc" stroke="#5a5a5a" stroke-width="0.3"/>
<circle cx="611.4" cy="248.2" r="1.55" fill="#718cb5" stroke="#5a5a5a" stroke-width="0.3"/>
<circle cx="617.2" cy="246.6" r="1.55" fill="#5d85ae" stroke="#5a5a5a" stroke-width="0.3"/>
<circle cx="619.7" cy="250.4" r="1.55" fill="#aebcde" stroke="#5a5a5a" stroke-width="0.3"/>
<circle cx="614.4" cy="256" r="1.55" fill="#aebcde" stroke="#5a5a5a" stroke-width="0.3"/>
<circle cx="614" cy="262.6" r="1.55" fill="#b5bfda" stroke="#5a5a5a" stroke-width="0.3"/>
<circle cx="597.6" cy="254.8" r="1.55" fill="#aea79a" stroke="#5a5a5a" stroke-width="0.3"/>
<circle cx="597.8" cy="256" r="1.55" fill="#9aa7c3" stroke="#5a5a5a" stroke-width="0.3"/>
<circle cx="597.8" cy="259.4" r="1.55" fill="#c3aea1" stroke="#5a5a5a" stroke-width="0.3"/>
<circle cx="592.3" cy="258.4" r="1.55" fill="#bcaea1" stroke="#5a5a5a" stroke-width="0.3"/>
<circle cx="590.4" cy="261.3" r="1.55" fill="#e56a6a" stroke="#5a5a5a" stroke-width="0.3"/>
<circle cx="588.8" cy="262.8" r="1.55" fill="#bca79a" stroke="#5a5a5a" stroke-width="0.3"/>
<circle cx="582.8" cy="261.9" r="1.55" fill="#de3b3b" stroke="#5a5a5a" stroke-width="0.3"/>
<circle cx="602.8" cy="266" r="1.55" fill="#85d0e5" stroke="#5a5a5a" stroke-width="0.3"/>
<circle cx="605.1" cy="267" r="1.55" fill="#85d0e5" stroke="#5a5a5a" stroke-width="0.3"/>
<circle cx="593.6" cy="272" r="1.55" fill="#93d7f2" stroke="#5a5a5a" stroke-width="0.3"/>
<circle cx="570" cy="270.1" r="1.55" fill="#7893d7" stroke="#5a5a5a" stroke-width="0.3"/>
<circle cx="574" cy="270.1" r="1.55" fill="#e57878" stroke="#5a5a5a" stroke-width="0.3"/>
</svg>
</body></html>
